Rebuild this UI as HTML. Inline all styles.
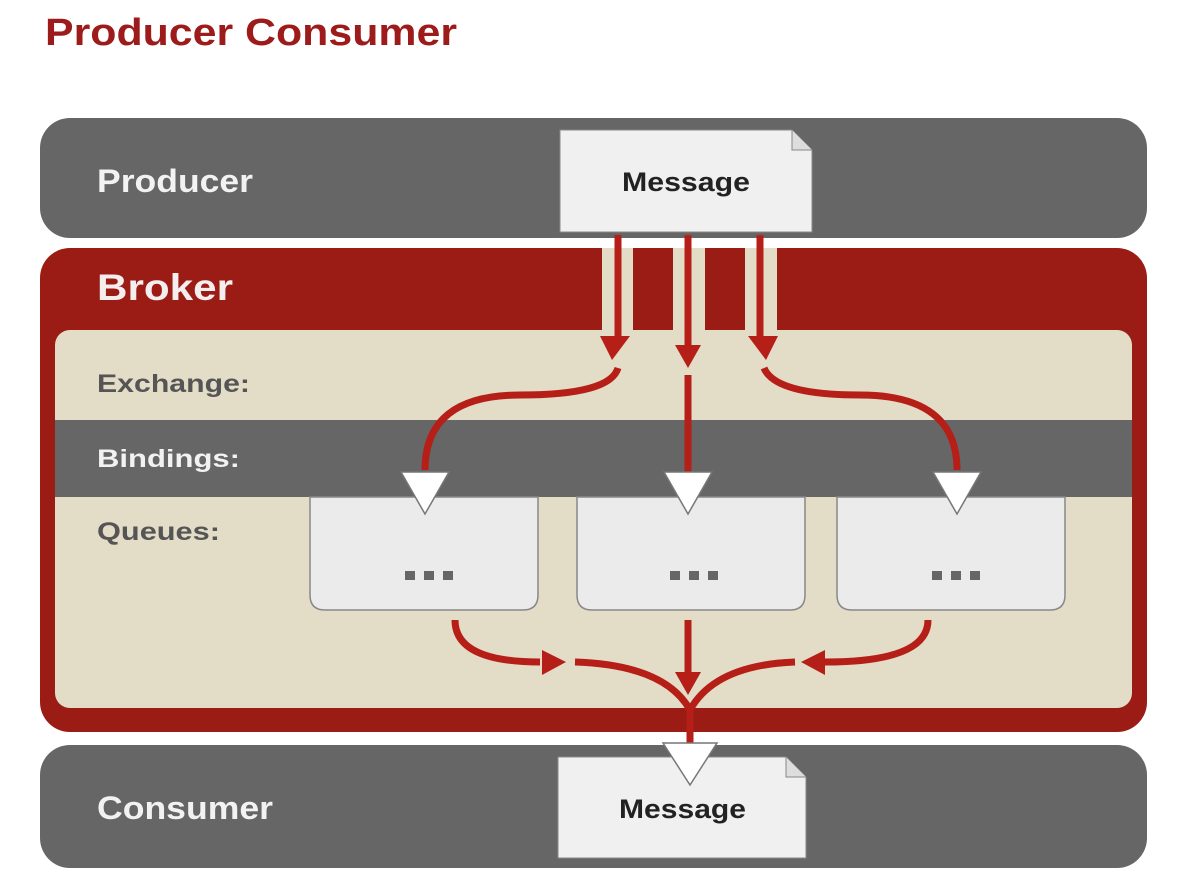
<!DOCTYPE html>
<html><head><meta charset="utf-8"><style>
html,body{margin:0;padding:0;background:#fff;}
svg{display:block;}
text{font-family:"Liberation Sans",sans-serif;font-weight:bold;}
</style></head><body>
<svg width="1200" height="880" viewBox="0 0 1200 880" xmlns="http://www.w3.org/2000/svg">
<text x="45" y="45" font-size="38" fill="#9e1b1b" textLength="412" lengthAdjust="spacingAndGlyphs">Producer Consumer</text>
<!-- Producer -->
<rect x="40" y="118" width="1107" height="120" rx="30" fill="#666"/>
<text x="97" y="192" font-size="32" fill="#f2f2f2" textLength="156" lengthAdjust="spacingAndGlyphs">Producer</text>
<!-- Broker -->
<rect x="40" y="248" width="1107" height="484" rx="30" fill="#9b1c14"/>
<text x="97" y="300" font-size="37" fill="#f5eeee" textLength="136" lengthAdjust="spacingAndGlyphs">Broker</text>
<rect x="602" y="248" width="31" height="84" fill="#e3dcc7"/>
<rect x="673" y="248" width="32" height="84" fill="#e3dcc7"/>
<rect x="745" y="248" width="32" height="84" fill="#e3dcc7"/>
<rect x="55" y="330" width="1077" height="378" rx="15" fill="#e3dcc7"/>
<rect x="55" y="420" width="1077" height="77" fill="#666"/>
<text x="97" y="392" font-size="25" fill="#555" textLength="153" lengthAdjust="spacingAndGlyphs">Exchange:</text>
<text x="97" y="467" font-size="25" fill="#f2f2f2" textLength="143" lengthAdjust="spacingAndGlyphs">Bindings:</text>
<text x="97" y="540" font-size="25" fill="#555" textLength="123" lengthAdjust="spacingAndGlyphs">Queues:</text>
<!-- Message top -->
<path d="M560,130 H792 L812,150 V232 H560 Z" fill="#f0f0f0" stroke="#888" stroke-width="1"/>
<path d="M792,130 V150 H812" fill="#ddd" stroke="#888" stroke-width="1"/>
<text x="622" y="191" font-size="27" fill="#222" textLength="128" lengthAdjust="spacingAndGlyphs">Message</text>
<!-- top arrows -->
<g stroke="#b51f18" stroke-width="7" fill="none">
<line x1="618" y1="235" x2="618" y2="338"/>
<line x1="688" y1="235" x2="688" y2="345"/>
<line x1="760" y1="235" x2="760" y2="338"/>
<path d="M618,368 Q610,395 520,395 Q425,395 425,470"/>
<line x1="688" y1="375" x2="688" y2="475"/>
<path d="M764,368 Q775,395 860,395 Q957,395 957,470"/>
</g>
<g fill="#b51f18">
<path d="M600,336 L630,336 L612,360 Z"/>
<path d="M675,345 L701,345 L688,368 Z"/>
<path d="M748,336 L778,336 L766,360 Z"/>
</g>
<!-- queues -->
<g fill="#ebebeb" stroke="#888" stroke-width="1.5">
<path d="M310,497 H538 V595 Q538,610 523,610 H325 Q310,610 310,595 Z"/>
<path d="M577,497 H805 V595 Q805,610 790,610 H592 Q577,610 577,595 Z"/>
<path d="M837,497 H1065 V595 Q1065,610 1050,610 H852 Q837,610 837,595 Z"/>
</g>
<g fill="#666">
<rect x="405" y="571" width="10" height="9"/><rect x="424" y="571" width="10" height="9"/><rect x="443" y="571" width="10" height="9"/>
<rect x="670" y="571" width="10" height="9"/><rect x="689" y="571" width="10" height="9"/><rect x="708" y="571" width="10" height="9"/>
<rect x="932" y="571" width="10" height="9"/><rect x="951" y="571" width="10" height="9"/><rect x="970" y="571" width="10" height="9"/>
</g>
<!-- white triangles -->
<g fill="#fff" stroke="#777" stroke-width="1.5">
<path d="M401,472 L449,472 L425,514 Z"/>
<path d="M664,472 L712,472 L688,514 Z"/>
<path d="M933,472 L981,472 L957,514 Z"/>
</g>
<!-- bottom arrows -->
<g stroke="#b51f18" stroke-width="7" fill="none">
<path d="M455,620 Q455,662 540,662"/>
<line x1="688" y1="620" x2="688" y2="675"/>
<path d="M928,620 Q928,662 825,662"/>
<path d="M575,662 Q665,665 690,710 L690,745"/>
<path d="M795,662 Q715,665 690,710"/>
</g>
<g fill="#b51f18">
<path d="M542,650 L566,662 L542,675 Z"/>
<path d="M675,672 L701,672 L688,695 Z"/>
<path d="M825,650 L801,662 L825,675 Z"/>
</g>
<!-- Consumer -->
<rect x="40" y="745" width="1107" height="123" rx="30" fill="#666"/>
<text x="97" y="819" font-size="32" fill="#f2f2f2" textLength="176" lengthAdjust="spacingAndGlyphs">Consumer</text>
<path d="M558,757 H786 L806,777 V858 H558 Z" fill="#f0f0f0" stroke="#888" stroke-width="1"/>
<path d="M786,757 V777 H806" fill="#ddd" stroke="#888" stroke-width="1"/>
<text x="619" y="818" font-size="27" fill="#222" textLength="127" lengthAdjust="spacingAndGlyphs">Message</text>
<path d="M663,743 L717,743 L690,785 Z" fill="#fff" stroke="#777" stroke-width="1.5"/>
</svg>
</body></html>
